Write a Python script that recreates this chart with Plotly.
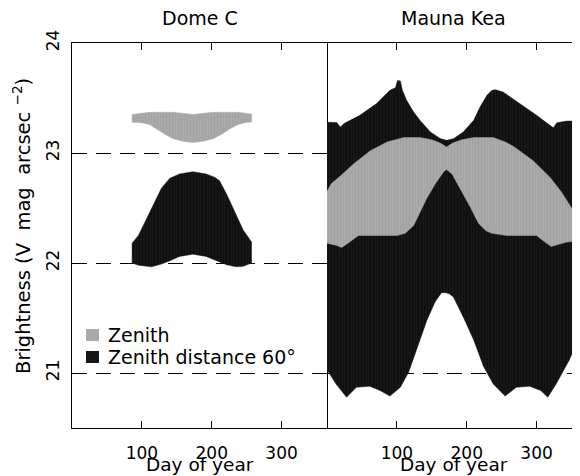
import plotly.graph_objects as go

# ---------------- data ----------------
# Dome C, Zenith (grey)
dc_zen_day = [86, 100, 111, 121, 133, 145, 160, 173, 186, 202, 214, 226, 238, 250, 257]
dc_zen_top = [23.35, 23.36, 23.37, 23.37, 23.37, 23.37, 23.36, 23.35, 23.36, 23.37, 23.37, 23.37, 23.37, 23.36, 23.355]
dc_zen_bot = [23.28, 23.275, 23.26, 23.22, 23.17, 23.13, 23.105, 23.095, 23.105, 23.13, 23.17, 23.22, 23.26, 23.28, 23.28]

# Dome C, zenith distance 60 deg (black)
dc_z60_day = [86, 95, 105, 114, 128, 140, 154, 173, 192, 204, 211, 221, 235, 245, 257]
dc_z60_top = [22.18, 22.25, 22.38, 22.50, 22.68, 22.77, 22.81, 22.83, 22.81, 22.78, 22.75, 22.63, 22.43, 22.30, 22.19]
dc_z60_bot = [22.00, 21.98, 21.97, 21.965, 21.99, 22.02, 22.06, 22.08, 22.06, 22.03, 22.01, 21.985, 21.965, 21.97, 22.00]

# Mauna Kea, zenith distance 60 deg (black)
mk_z60_top_day = [0, 14, 19, 25, 47, 71, 90, 98, 101, 105, 108, 114, 124, 133, 148, 162, 171, 181, 195,
                  210, 219, 229, 236, 241, 252, 276, 300, 319, 324, 329, 343, 365]
mk_z60_top = [23.28, 23.277, 23.236, 23.27, 23.343, 23.449, 23.57, 23.594, 23.66, 23.655, 23.57, 23.479,
              23.373, 23.297, 23.191, 23.131, 23.115, 23.13, 23.19, 23.297, 23.418, 23.525, 23.57, 23.575,
              23.555, 23.45, 23.343, 23.252, 23.23, 23.275, 23.29, 23.29]
mk_z60_bot_day = [0, 13, 28, 42, 61, 76, 90, 105, 117, 126, 133, 143, 155, 164, 170, 175, 181, 195, 210,
                  224, 238, 255, 271, 290, 306, 316, 328, 347, 355, 360, 365]
mk_z60_bot = [21.03, 20.90, 20.78, 20.87, 20.88, 20.84, 20.79, 20.87, 21.01, 21.18, 21.30, 21.48, 21.65,
              21.73, 21.73, 21.72, 21.69, 21.51, 21.30, 21.06, 20.90, 20.79, 20.87, 20.88, 20.84, 20.78,
              20.90, 21.12, 21.24, 21.22, 21.21]

# Mauna Kea, Zenith (grey)
mk_zen_top_day = [0, 6, 19, 38, 62, 86, 110, 133, 150, 162, 171, 180, 193, 210, 238, 255, 267, 295, 319,
                  335, 343, 352, 365]
mk_zen_top = [22.65, 22.72, 22.79, 22.90, 23.02, 23.10, 23.14, 23.14, 23.12, 23.09, 23.055, 23.09, 23.12,
              23.14, 23.14, 23.10, 23.06, 22.93, 22.78, 22.65, 22.57, 22.48, 22.47]
mk_zen_bot_day = [0, 14, 21, 30, 45, 67, 100, 112, 124, 133, 143, 155, 167, 171, 179, 190, 205, 217, 228,
                  236, 257, 300, 310, 321, 330, 343, 365]
mk_zen_bot = [22.18, 22.16, 22.14, 22.18, 22.25, 22.25, 22.25, 22.27, 22.34, 22.46, 22.59, 22.72, 22.83,
              22.85, 22.81, 22.68, 22.51, 22.36, 22.29, 22.27, 22.25, 22.25, 22.20, 22.15, 22.17, 22.19,
              22.205]

sites = ["Dome C", "Mauna Kea"]
legend_names = ["Zenith", "Zenith distance 60°"]
x_ticks = [100, 200, 300]
y_ticks = [21, 22, 23, 24]
x_title = "Day of year"
NB = "\u00a0"
y_title = f"Brightness (V{NB}{NB}mag{NB}{NB}arcsec{NB}<sup>−2</sup>)"

GREY = "#a9a9a9"
BLACK = "#161616"
FONT = "DejaVu Sans"

# page geometry (the page body has an 8px margin)
OFF = 8
W, H = 580 - OFF, 476 - OFF
PL, PR, PT, PB = 72, 580, 43, 428          # plot area in page pixels
ML, MR, MT, MB = PL - OFF, 0, PT - OFF, 476 - PB
pw, ph = PR - PL, PB - PT
split = 255 / pw


def px_x(p):
    return (p - PL) / pw


def px_y(p):
    return (PB - p) / ph


def band(xt, yt, xb, yb, color, fg, xa, ya):
    xs = list(xt) + list(reversed(xb)) + [xt[0]]
    ys = list(yt) + list(reversed(yb)) + [yt[0]]
    return go.Scatter(x=xs, y=ys, mode="lines", fill="toself", fillcolor=color,
                      fillpattern=dict(shape="|", bgcolor=color, fgcolor=fg, size=3, solidity=0.3),
                      line=dict(width=0.5, color=color), xaxis=xa, yaxis=ya,
                      showlegend=False, hoverinfo="skip")


fig = go.Figure()
fig.add_trace(band(dc_z60_day, dc_z60_top, dc_z60_day, dc_z60_bot, BLACK, "#050505", "x", "y"))
fig.add_trace(band(dc_zen_day, dc_zen_top, dc_zen_day, dc_zen_bot, GREY, "#9c9c9c", "x", "y"))
fig.add_trace(band(mk_z60_top_day, mk_z60_top, mk_z60_bot_day, mk_z60_bot, BLACK, "#050505", "x2", "y2"))
fig.add_trace(band(mk_zen_top_day, mk_zen_top, mk_zen_bot_day, mk_zen_bot, GREY, "#9c9c9c", "x2", "y2"))

xcommon = dict(showline=True, linecolor="black", linewidth=1, mirror="ticks",
               ticks="inside", ticklen=7, tickcolor="black", tickvals=x_ticks,
               showgrid=False, zeroline=False, automargin=False,
               ticklabelstandoff=10, tickfont=dict(size=17))

fig.update_layout(
    width=W, height=H,
    margin=dict(l=ML, r=MR, t=MT, b=MB, autoexpand=False),
    paper_bgcolor="white", plot_bgcolor="white",
    font=dict(family=FONT, size=18, color="black"),
    xaxis=dict(domain=[0, split], range=[0, 365], anchor="y", **xcommon),
    xaxis2=dict(domain=[split, 1], range=[0, (pw - 255) / 255 * 365], anchor="y2", **xcommon),
    yaxis=dict(range=[20.5, 24], anchor="x", tickvals=y_ticks, ticks="",
               showline=True, linecolor="black", linewidth=1, mirror=True,
               showgrid=True, gridcolor="black", gridwidth=1, griddash="15px,9px",
               zeroline=False, tickangle=-90, tickfont=dict(size=17),
               ticklabelstandoff=5, automargin=False),
    yaxis2=dict(range=[20.5, 24], anchor="x2", tickvals=y_ticks, showticklabels=False,
                ticks="", showline=False, showgrid=True, gridcolor="black", gridwidth=1,
                griddash="15px,9px", zeroline=False, automargin=False),
    showlegend=False,
)

for i, s in enumerate(sites):
    dom = "x domain" if i == 0 else "x2 domain"
    fig.add_annotation(text=s, xref=dom, x=0.5, yref="paper", y=px_y(18), yanchor="middle",
                       showarrow=False, font=dict(size=19))
    fig.add_annotation(text=x_title, xref=dom, x=0.5, yref="paper", y=px_y(465),
                       yanchor="middle", showarrow=False, font=dict(size=18.5))

fig.add_annotation(text=y_title, textangle=-90,
                   xref="paper", x=px_x(22), yref="paper", y=px_y(226),
                   xanchor="center", yanchor="middle", showarrow=False, font=dict(size=19.5))

# legend (drawn in the panel, as in the original)
leg_rows = [335, 357]
for name, col, yc in zip(legend_names, [GREY, BLACK], leg_rows):
    fig.add_shape(type="rect", xref="paper", yref="paper",
                  x0=px_x(86), x1=px_x(99), y0=px_y(yc - 6), y1=px_y(yc + 6),
                  fillcolor=col, line=dict(width=0))
    fig.add_annotation(text=name, xref="paper", yref="paper", x=px_x(106), y=px_y(yc),
                       xanchor="left", yanchor="middle", showarrow=False, font=dict(size=19))

fig.write_html("out.html")
